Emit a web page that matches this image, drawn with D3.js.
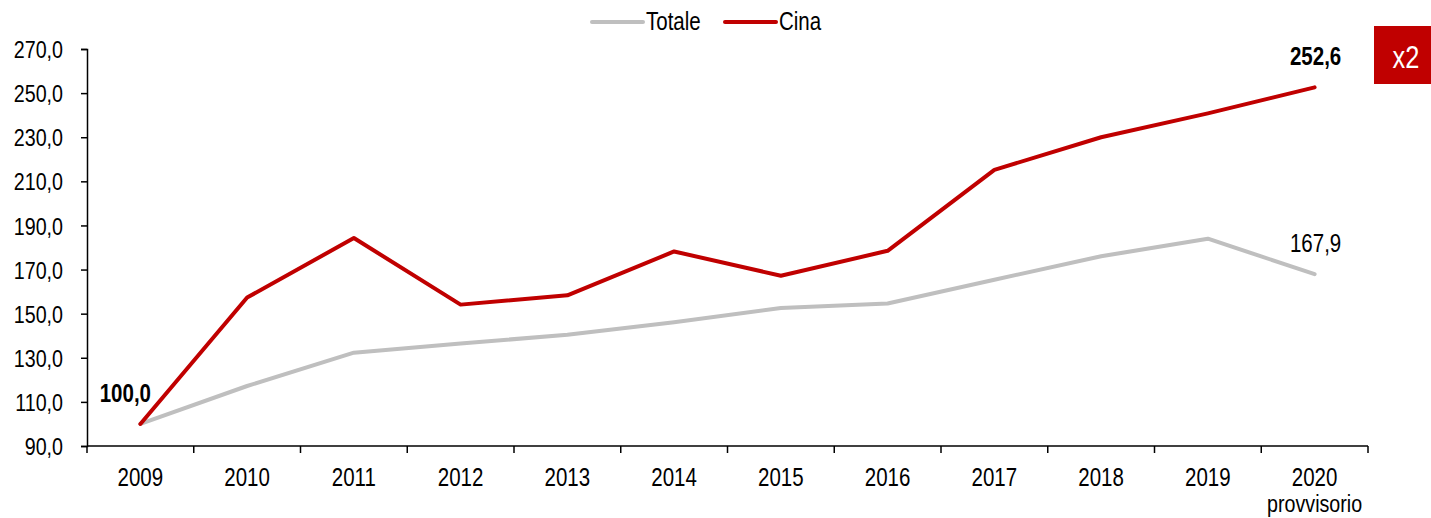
<!DOCTYPE html>
<html>
<head>
<meta charset="utf-8">
<script src="https://cdn.jsdelivr.net/npm/d3@7"></script>
<style>
  body { margin: 0; background: #fff; }
  svg text { font-family: "Liberation Sans Narrow", "Liberation Sans", Arial, sans-serif; fill: #000; }
</style>
</head>
<body>
<script>
// data
var years = ["2009", "2010", "2011", "2012", "2013", "2014", "2015", "2016", "2017", "2018", "2019", "2020"];
var totale = [100.0, 117.2, 132.3, 136.5, 140.4, 146.1, 152.6, 154.6, 165.4, 176.0, 184.0, 167.9];
var cina = [100.0, 157.3, 184.3, 154.1, 158.3, 178.2, 167.2, 178.5, 215.2, 230.0, 240.8, 252.6];
var yTicks = [90, 110, 130, 150, 170, 190, 210, 230, 250, 270];

var width = 1431, height = 518;
var margin = {left: 87, right: 63, top: 49, bottom: 72};
//narrow font look: squeeze the regular face horizontally
var sx = 0.82;

var svg = d3.select("body").append("svg").attr("width", width).attr("height", height);

var x = d3.scaleBand().domain(years).range([margin.left, width - margin.right]);
var y = d3.scaleLinear().domain([90, 270]).range([height - margin.bottom, margin.top]);

var fmt = function(v) { return d3.format(".1f")(v).replace(".", ","); };

//put a text at X,Y with the squeezed look
function narrow(sel, X, Y) {
  return sel.attr("x", X / sx).attr("y", Y).attr("transform", "scale(" + sx + ",1)");
}

// y axis
var yAxis = svg.append("g").attr("transform", "translate(" + margin.left + ",0)")
  .call(d3.axisLeft(y).tickValues(yTicks).tickFormat(fmt).tickSize(6));
yAxis.select(".domain").attr("stroke", "#000").attr("stroke-width", 1.5);
yAxis.selectAll(".tick line").attr("stroke", "#000").attr("stroke-width", 1.5);
yAxis.selectAll(".tick text").style("font-size", "24px").attr("dy", "0.36em")
  .attr("x", -24 / sx).attr("transform", "scale(" + sx + ",1)");

// x axis, ticks at category boundaries
var xg = svg.append("g").attr("transform", "translate(0," + y(90) + ")");
xg.append("line").attr("x1", margin.left).attr("x2", width - margin.right)
  .attr("stroke", "#000").attr("stroke-width", 1.5);
var bounds = years.map(function(d) { return x(d); }).concat([x(years[years.length - 1]) + x.bandwidth()]);
xg.selectAll(".xt").data(bounds).enter().append("line")
  .attr("x1", function(d) { return d; }).attr("x2", function(d) { return d; })
  .attr("y1", 0).attr("y2", 7).attr("stroke", "#000").attr("stroke-width", 1.5);
xg.selectAll(".xl").data(years).enter().append("text")
  .attr("text-anchor", "middle").style("font-size", "25px")
  .each(function(d) { narrow(d3.select(this), x(d) + x.bandwidth() / 2, 40); })
  .text(function(d) { return d; });
narrow(xg.append("text"), x("2020") + x.bandwidth() / 2, 66)
  .attr("text-anchor", "middle").style("font-size", "24px").text("provvisorio");

// lines
var line = d3.line()
  .x(function(d, i) { return x(years[i]) + x.bandwidth() / 2; })
  .y(function(d) { return y(d); });

svg.append("path").datum(totale).attr("d", line).attr("fill", "none")
  .attr("stroke", "#BFBFBF").attr("stroke-width", 4).attr("stroke-linejoin", "round").attr("stroke-linecap", "round");
svg.append("path").datum(cina).attr("d", line).attr("fill", "none")
  .attr("stroke", "#C00000").attr("stroke-width", 4).attr("stroke-linejoin", "round").attr("stroke-linecap", "round");

// data labels
var cx = function(i) { return x(years[i]) + x.bandwidth() / 2; };
narrow(svg.append("text"), cx(0) - 15, y(cina[0]) - 22).attr("text-anchor", "middle")
  .style("font-size", "25px").style("font-weight", "bold").text(fmt(cina[0]));
narrow(svg.append("text"), cx(11) + 1, y(cina[11]) - 22).attr("text-anchor", "middle")
  .style("font-size", "25px").style("font-weight", "bold").text(fmt(cina[11]));
narrow(svg.append("text"), cx(11) + 1, y(totale[11]) - 22).attr("text-anchor", "middle")
  .style("font-size", "25px").text(fmt(totale[11]));

// legend
var legend = [{name: "Totale", color: "#BFBFBF", x: 592}, {name: "Cina", color: "#C00000", x: 725}];
var lg = svg.selectAll(".legend").data(legend).enter().append("g")
  .attr("transform", function(d) { return "translate(" + d.x + ",22)"; });
lg.append("line").attr("x1", 0).attr("x2", 51).attr("stroke", function(d) { return d.color; })
  .attr("stroke-width", 4).attr("stroke-linecap", "round");
lg.append("text").style("font-size", "25px")
  .each(function() { narrow(d3.select(this), 54, 7.5); })
  .text(function(d) { return d.name; });

// x2 badge
svg.append("rect").attr("x", 1374).attr("y", 26).attr("width", 57).attr("height", 58).attr("fill", "#C00000");
narrow(svg.append("text"), 1406, 68).attr("text-anchor", "middle")
  .style("font-size", "31px").style("fill", "#fff").text("x2");
</script>
</body>
</html>
